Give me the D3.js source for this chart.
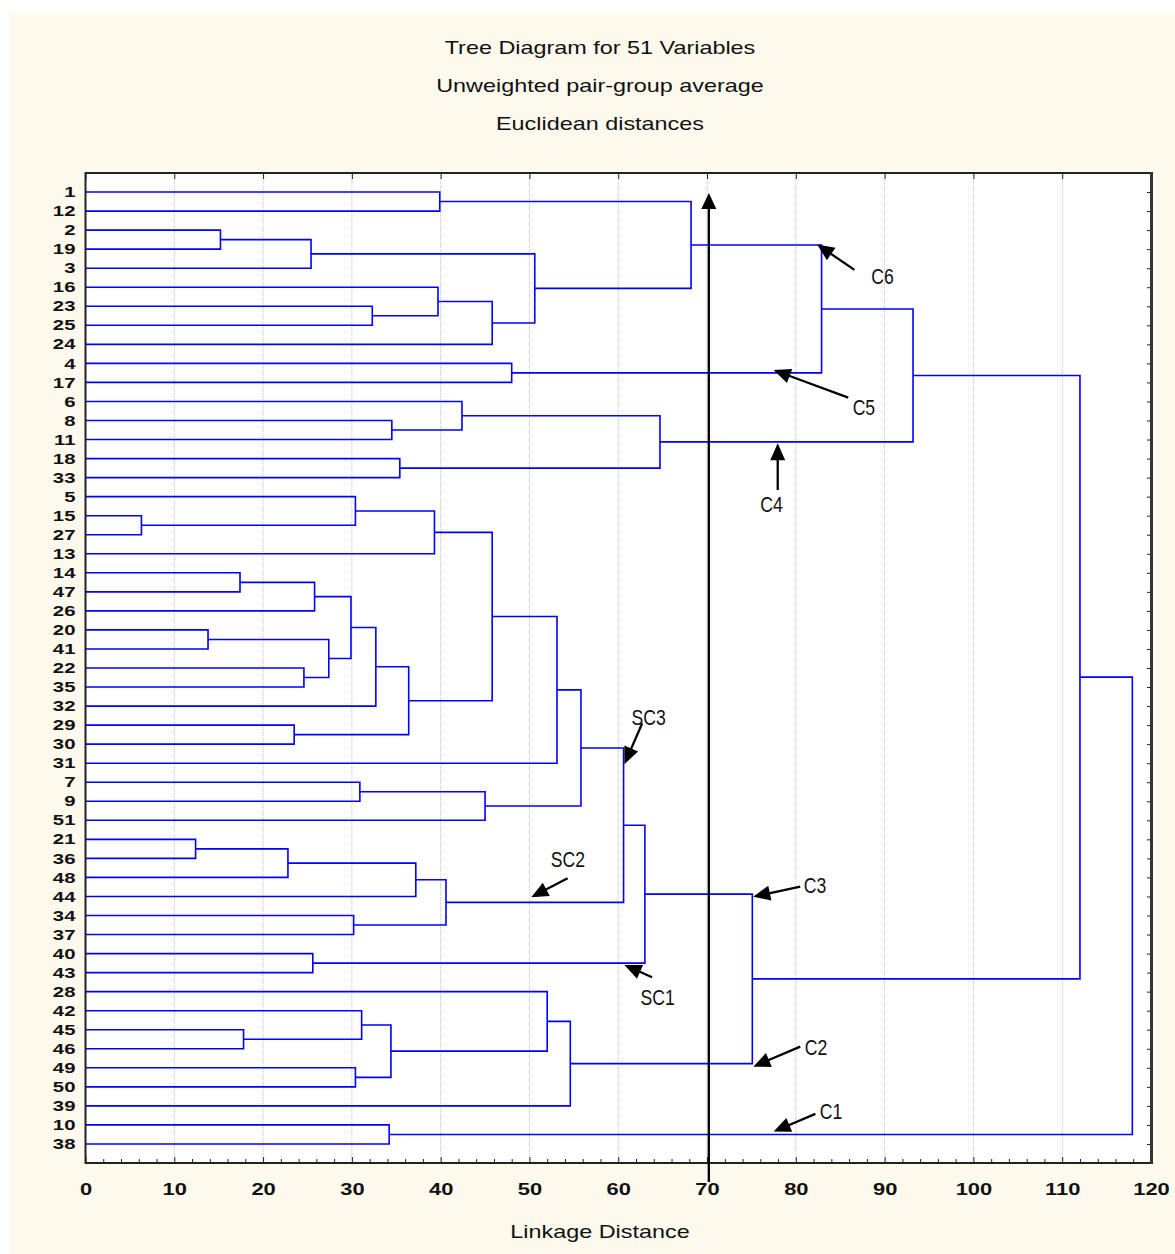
<!DOCTYPE html>
<html><head><meta charset="utf-8">
<script src="https://cdn.jsdelivr.net/npm/d3@7"></script>
<style>body{margin:0;background:#fff} svg{display:block}</style>
</head><body><svg id="c" width="1175" height="1254"></svg>
<script>
// ---- data ----
const titleLines = ["Tree Diagram for 51 Variables", "Unweighted pair-group average", "Euclidean distances"];
const xAxisTitle = "Linkage Distance";
const leafOrder = ["1","12","2","19","3","16","23","25","24","4","17","6","8","11","18","33",
  "5","15","27","13","14","47","26","20","41","22","35","32","29","30","31","7","9","51",
  "21","36","48","44","34","37","40","43","28","42","45","46","49","50","39","10","38"];
const xTicks = [0,10,20,30,40,50,60,70,80,90,100,110,120];
// merges: node name, left child, right child, linkage distance
const mergeNames  = ["n1","n2","n3","n4","n5","n6","n7","n8","n9","n10","n11","n12","n13","n14","n15",
  "m1","m2","m3","m4","m5","m6","m7","m8","m9","m10","m11","m12","m13","m14","m15","m16","m17",
  "m18","m19","m20","m21","m22","m23","m24","m25","p1","p2","p3","p4","p5","p6","p7","r1","r2","root"];
const mergeLeft   = ["1","2","n2","23","16","n5","n3","n1","4","n8","8","6","18","n12","n10",
  "15","5","m2","14","m4","20","22","m6","m5","m9","29","m10","m3","m13","7","m15","m14",
  "21","m18","m19","34","m20","m17","40","m23","45","42","49","p2","28","p5","m25","n15","10","r1"];
const mergeRight  = ["12","19","3","25","n4","24","n6","n7","17","n9","11","n11","33","n13","n14",
  "27","m1","13","47","26","41","35","m7","m8","32","30","m11","m12","31","9","51","m16",
  "36","48","44","37","m21","m22","43","m24","46","p1","50","p3","p4","39","p6","p7","38","r2"];
const mergeHeight = [39.9,15.2,25.4,32.3,39.7,45.8,50.6,68.2,48.0,82.9,34.5,42.4,35.4,64.7,93.2,
  6.3,30.4,39.3,17.4,25.8,13.8,24.6,27.4,29.9,32.7,23.5,36.4,45.8,53.1,30.9,45.0,55.8,
  12.4,22.8,37.2,30.2,40.6,60.6,25.6,63.0,17.8,31.1,30.4,34.4,52.0,54.6,75.1,112.0,34.2,117.9];
// annotations: label, text anchor (distance,row index), arrow start, arrow tip
const annLabels = ["C6","C5","C4","SC3","SC2","C3","SC1","C2","C1"];
const annText  = [[88.5,4.85],[86.4,11.7],[76.0,16.8],[61.5,28.0],[52.4,35.47],[80.9,36.81],[62.5,42.7],[81.0,45.32],[82.7,48.7]];
const annFrom  = [[86.6,4.09],[85.9,10.8],[77.96,15.65],[62.7,27.9],[54.3,36.04],[80.5,36.48],[63.8,41.24],[80.5,44.89],[82.2,48.42]];
const annTip   = [[82.4,2.75],[77.5,9.35],[77.96,13.2],[60.7,30.05],[50.2,37.04],[75.2,37.01],[60.7,40.6],[75.2,45.94],[77.5,49.35]];
const cutLine = {distance: 70.2, fromRow: 52.0, toRow: 0.05};

// ---- drawing ----
const svg = d3.select("#c");
const W = 1175, H = 1254;
const FONT = "'Liberation Sans', Arial, sans-serif";
svg.append("rect").attr("x",10).attr("y",13).attr("width",W-10).attr("height",H-13).attr("fill","#fdf9ed");

const x = d3.scaleLinear().domain([0,120]).range([85.5,1151]);
const y = d3.scalePoint().domain(leafOrder).range([173,1163]).padding(1);
const rowY = i => y(leafOrder[0]) + i*y.step();
const plotTop = 173, plotBottom = 1163, plotLeft = x(0), plotRight = x(120);

svg.append("rect").attr("x",plotLeft).attr("y",plotTop).attr("width",plotRight-plotLeft).attr("height",plotBottom-plotTop).attr("fill","#fff");

// grid
svg.append("g").selectAll("line").data(xTicks.filter(t=>t>0&&t<120)).join("line")
  .attr("x1",d=>x(d)).attr("x2",d=>x(d)).attr("y1",plotTop).attr("y2",plotBottom)
  .attr("stroke","#c4c4c4").attr("stroke-width",1).attr("stroke-dasharray","1,1");

// titles
titleLines.forEach((t,i)=>{
  svg.append("text").attr("transform",`translate(600,${54+i*38}) scale(1.3,1)`)
    .attr("text-anchor","middle").attr("font-family",FONT).attr("font-size",18).attr("fill","#111").text(t);
});
svg.append("text").attr("transform",`translate(600,1238) scale(1.3,1)`)
  .attr("text-anchor","middle").attr("font-family",FONT).attr("font-size",18).attr("fill","#111").text(xAxisTitle);

// dendrogram
const pos = {};
leafOrder.forEach(l=>pos[l]={h:0,y:y(l)});
const links = svg.append("g").attr("fill","none").attr("stroke","#0000ff").attr("stroke-width",1.6);
mergeNames.forEach((n,i)=>{
  const a = pos[mergeLeft[i]], b = pos[mergeRight[i]], h = mergeHeight[i];
  pos[n] = {h:h, y:(a.y+b.y)/2};
  links.append("path").attr("d",`M${x(a.h)},${a.y}H${x(h)}V${b.y}H${x(b.h)}`);
});

// axes
const axB = svg.append("g").attr("transform",`translate(0,${plotBottom})`)
  .call(d3.axisBottom(x).tickValues(xTicks).tickSize(-6).tickPadding(20.5).tickFormat(d3.format("d")));
axB.selectAll("text").attr("font-family",FONT).attr("font-weight","bold").attr("font-size",16)
  .attr("fill","#111").attr("transform","scale(1.37,1)");
svg.append("g").attr("transform",`translate(0,${plotBottom})`)
  .call(d3.axisBottom(x).tickValues(d3.range(2,120,2).filter(v=>v%10)).tickSize(-4).tickFormat(""));
svg.append("g").attr("transform",`translate(0,${plotTop})`)
  .call(d3.axisTop(x).tickValues(xTicks).tickSize(-6).tickFormat(""));
svg.append("g").attr("transform",`translate(${plotRight},0)`)
  .call(d3.axisRight(y).tickSize(-4).tickFormat(""));
const axL = svg.append("g").attr("transform",`translate(${plotLeft},0)`)
  .call(d3.axisLeft(y).tickSize(0).tickPadding(7.2));
axL.selectAll("text").attr("font-family",FONT).attr("font-weight","bold").attr("font-size",14.5)
  .attr("fill","#111").attr("transform","scale(1.4,1)");
svg.selectAll(".domain").attr("stroke","none");
svg.selectAll(".tick line").attr("stroke","#222");
svg.append("rect").attr("x",plotLeft).attr("y",plotTop).attr("width",plotRight-plotLeft).attr("height",plotBottom-plotTop)
  .attr("fill","none").attr("stroke","#222").attr("stroke-width",2);
svg.append("line").attr("x1",plotRight+0.5).attr("x2",plotRight+0.5).attr("y1",plotTop-1).attr("y2",plotBottom+1)
  .attr("stroke","#333").attr("stroke-width",3);

// arrows
function arrowHead(g, x1,y1,x2,y2,len,hw){
  const dx=x2-x1, dy=y2-y1, L=Math.hypot(dx,dy), ux=dx/L, uy=dy/L;
  const bx=x2-ux*len, by=y2-uy*len;
  g.append("line").attr("x1",x1).attr("y1",y1).attr("x2",bx+ux*2).attr("y2",by+uy*2)
    .attr("stroke","#000").attr("stroke-width",2.3);
  g.append("polygon").attr("points",[[x2,y2],[bx-uy*hw,by+ux*hw],[bx+uy*hw,by-ux*hw]].map(p=>p.join(",")).join(" "))
    .attr("fill","#000");
}
const ann = svg.append("g");
arrowHead(ann, x(cutLine.distance), rowY(cutLine.fromRow), x(cutLine.distance), rowY(cutLine.toRow), 16, 7.5);
annLabels.forEach((lab,i)=>{
  arrowHead(ann, x(annFrom[i][0]), rowY(annFrom[i][1]), x(annTip[i][0]), rowY(annTip[i][1]), 17, 7.5);
  ann.append("text").attr("transform",`translate(${x(annText[i][0])},${rowY(annText[i][1])}) scale(0.8,1)`)
    .attr("font-family",FONT).attr("font-size",22).attr("fill","#111").text(lab);
});
</script></body></html>
